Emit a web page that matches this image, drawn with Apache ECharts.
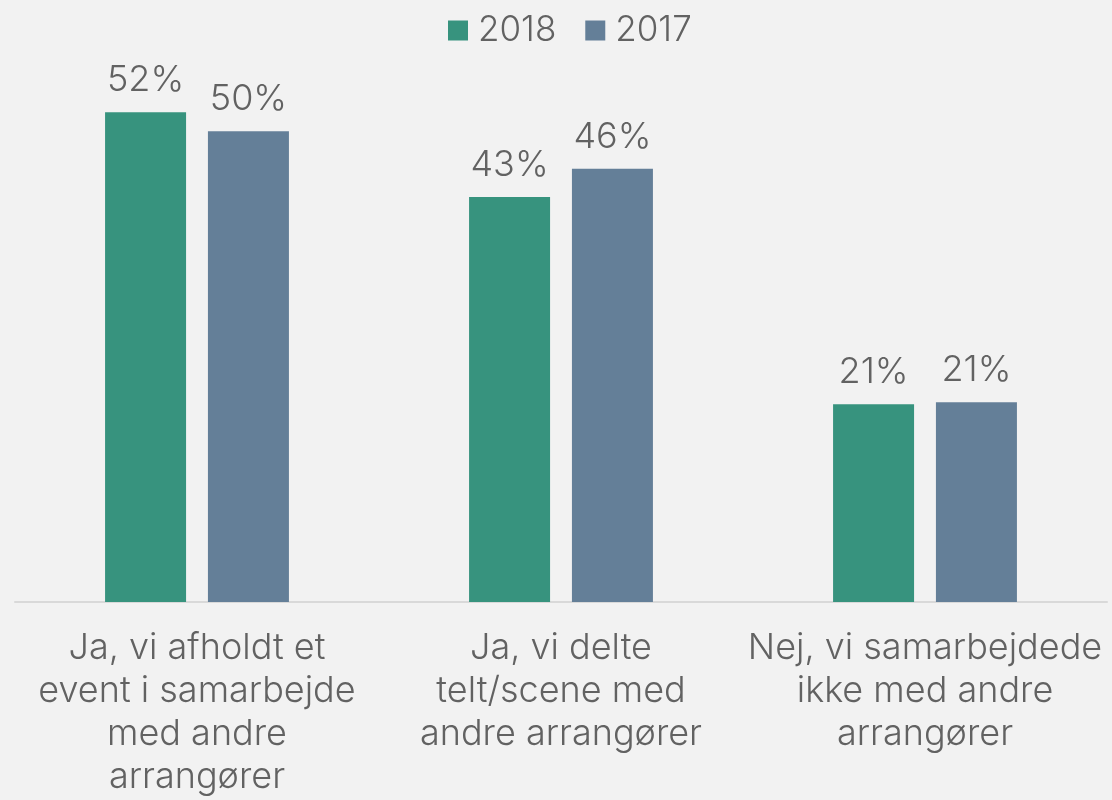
<!DOCTYPE html>
<html>
<head>
<meta charset="utf-8">
<script src="https://cdn.jsdelivr.net/npm/echarts@6/dist/echarts.min.js"></script>
<style>
  html, body { margin: 0; padding: 0; background: #f2f2f2; }
  #chart { width: 1112px; height: 800px; }
</style>
</head>
<body>
<div id="chart"></div>
<script>
const categories = [
  'Ja, vi afholdt et\nevent i samarbejde\nmed andre\narrangører',
  'Ja, vi delte\ntelt/scene med\nandre arrangører',
  'Nej, vi samarbejdede\nikke med andre\narrangører'
]
const values2018 = [52, 43, 21]
const values2017 = [50, 46, 21.2]
const labels2017 = ['50%', '46%', '21%']

const font = 'Inter, "Noto Sans", sans-serif'
const textColor = '#626262'

const chart = echarts.init(document.getElementById('chart'))
chart.setOption({
  backgroundColor: '#f2f2f2',
  animation: false,
  textStyle: { fontFamily: font },
  legend: {
    top: 8,
    left: 443,
    itemWidth: 20,
    itemHeight: 20,
    itemGap: 29,
    icon: 'rect',
    textStyle: { color: textColor, fontSize: 35, fontWeight: 300, fontFamily: font, padding: [0, 0, 0, 5] }
  },
  grid: { left: 15, right: 5, top: 37, bottom: 198 },
  xAxis: {
    type: 'category',
    data: categories,
    axisLine: { lineStyle: { color: '#d9d9d9', width: 2 } },
    axisTick: { show: false },
    axisLabel: {
      interval: 0,
      margin: 25,
      color: textColor,
      fontSize: 36,
      fontWeight: 300,
      lineHeight: 43,
      fontFamily: font
    }
  },
  yAxis: {
    type: 'value',
    min: 0,
    max: 60,
    show: false,
    splitLine: { show: false }
  },
  series: [
    {
      name: '2018',
      type: 'bar',
      data: values2018,
      barWidth: 81,
      barGap: '27%',
      itemStyle: { color: '#37937e' },
      label: {
        show: true,
        position: 'top',
        distance: 14,
        color: textColor,
        fontSize: 36,
        fontWeight: 300,
        fontFamily: font,
        formatter: p => p.value + '%'
      }
    },
    {
      name: '2017',
      type: 'bar',
      data: values2017,
      barWidth: 81,
      itemStyle: { color: '#647f98' },
      label: {
        show: true,
        position: 'top',
        distance: 14,
        color: textColor,
        fontSize: 36,
        fontWeight: 300,
        fontFamily: font,
        formatter: p => labels2017[p.dataIndex]
      }
    }
  ]
})
</script>
</body>
</html>
